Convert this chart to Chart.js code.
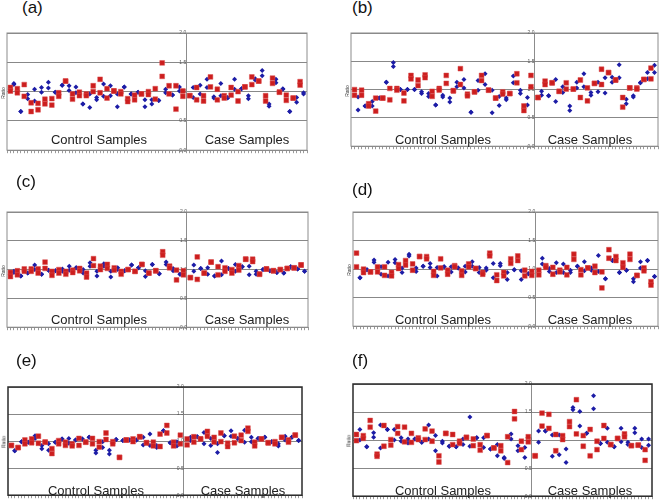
<!DOCTYPE html>
<html lang="en">
<head>
  <meta charset="UTF-8">
  <title>Ratio plots, control vs case samples</title>
  <script src="https://cdn.jsdelivr.net/npm/chart.js"></script>
  <style>
    body { margin: 0; width: 661px; height: 502px; background: #fff; position: relative; overflow: hidden;
           font-family: "Liberation Sans", Arial, sans-serif; }
    .panel { position: absolute; }
    .tag { position: absolute; font-size: 17px; line-height: 17px; color: #111; }
    .grp { position: absolute; font-size: 13px; line-height: 13px; color: #222; transform: translateX(-50%); white-space: nowrap; }
    .ratio { position: absolute; font-size: 5px; line-height: 5px; color: #333; transform: translate(-50%, -50%) rotate(-90deg); }
  </style>
</head>
<body>
  <script>
    // each entry = one sample column, two replicate ratios; odd columns red, even columns blue
    // control columns are 1..51, case columns 53..86, split line at 52
    const aControl = [
      [1.07,1.01],[1.14,1.12],[1.05,0.98],[0.66,0.66],[1.12,0.92],[0.95,0.88],[0.81,0.66],[1.04,0.84],[0.80,0.69],[1.07,0.99],
      [0.87,0.79],[1.16,1.06],[0.88,0.77],[0.99,0.99],[0.98,0.92],[1.11,1.11],[1.18,1.18],[1.10,1.02],[0.96,0.87],[1.08,0.98],
      [0.99,0.93],[0.79,0.79],[0.96,0.93],[0.96,0.73],[1.10,1.00],[0.90,0.86],[1.21,0.98],[1.13,0.92],[1.05,0.89],[1.10,0.93],
      [1.01,1.01],[0.96,0.74],[1.00,0.96],[1.08,1.08],[0.88,0.83],[0.96,0.96],[0.94,0.86],[0.99,0.99],[0.96,0.96],[0.86,0.74],
      [1.00,0.95],[0.86,0.79],[1.05,0.87],[0.85,0.85],[1.49,1.26],[1.04,0.98],[1.10,0.96],[0.94,0.94],[1.10,0.70],[1.08,1.01],
      [1.01,0.92]
    ];
    const aCase = [
      [0.93,0.93],[1.07,0.90],[1.07,0.86],[1.11,0.96],[0.93,0.84],[1.21,1.07],[1.25,1.08],[0.91,0.89],[1.04,0.86],[1.14,0.93],
      [0.93,0.89],[0.90,0.89],[1.07,0.94],[1.21,1.04],[1.00,0.84],[1.05,1.05],[1.08,1.08],[0.93,0.88],[1.25,1.12],[1.22,1.20],
      [1.18,1.18],[1.36,1.27],[0.93,0.84],[0.79,0.75],[1.23,1.14],[1.21,1.15],[0.99,0.99],[1.05,1.04],[0.94,0.85],[0.66,0.66],
      [0.89,0.89],[0.90,0.82],[1.17,1.11],[0.98,0.96]
    ];
    const bControl = [
      [1.00,0.90],[0.87,0.64],[0.99,0.90],[0.71,0.71],[0.75,0.71],[0.79,0.71],[0.85,0.62],[0.85,0.85],[0.85,0.85],[1.13,1.13],
      [1.02,0.82],[1.48,1.41],[1.02,0.99],[1.00,1.00],[0.94,0.80],[1.00,1.00],[1.25,1.19],[1.00,1.00],[1.17,1.07],[0.96,0.93],
      [1.26,1.21],[0.93,0.88],[0.97,0.88],[0.73,0.73],[1.02,0.99],[0.90,0.87],[1.25,1.11],[0.85,0.78],[0.98,0.98],[1.13,1.05],
      [1.37,1.09],[1.18,1.03],[0.92,0.89],[0.60,0.60],[0.96,0.96],[1.16,0.99],[1.25,1.16],[1.28,1.09],[0.99,0.99],[0.99,0.59],
      [0.85,0.85],[0.88,0.72],[0.96,0.92],[0.85,0.82],[0.93,0.93],[1.24,1.12],[1.28,1.12],[0.99,0.93],[0.71,0.63],[0.86,0.73],
      [1.25,1.05]
    ];
    const bCase = [
      [0.86,0.86],[0.97,0.90],[1.15,1.09],[0.89,0.89],[1.12,1.12],[1.18,0.79],[0.97,0.97],[1.05,0.95],[1.12,1.01],[0.71,0.63],
      [1.01,1.01],[1.13,1.03],[1.17,0.86],[1.28,1.05],[1.03,0.80],[0.95,0.90],[1.11,1.11],[1.13,0.96],[1.36,1.09],[1.21,0.94],
      [1.30,1.30],[1.22,1.13],[1.17,1.17],[1.44,1.21],[0.86,0.69],[0.83,0.75],[1.03,1.03],[0.89,0.87],[1.03,1.01],[1.12,1.12],
      [1.18,1.18],[1.30,1.19],[1.38,1.19],[1.43,1.30]
    ];
    const cControl = [
      [0.95,0.88],[0.97,0.95],[0.98,0.91],[0.89,0.89],[1.01,0.97],[0.94,0.94],[1.01,0.97],[1.08,1.00],[1.01,0.94],[0.92,0.92],
      [1.13,1.02],[0.99,0.99],[0.97,0.90],[0.98,0.98],[1.00,0.94],[1.01,0.97],[0.97,0.92],[1.06,0.99],[0.99,0.95],[1.03,1.03],
      [1.02,0.98],[1.00,0.94],[0.94,0.87],[1.12,1.06],[1.19,1.07],[0.97,0.89],[1.06,1.00],[1.10,1.06],[1.09,1.02],[0.97,0.87],
      [1.03,0.99],[1.03,1.00],[0.97,0.92],[0.98,0.98],[1.00,1.00],[1.08,1.08],[0.97,0.97],[1.03,1.03],[1.09,1.09],[0.98,0.88],
      [0.94,0.94],[1.09,1.09],[0.98,0.98],[0.93,0.93],[1.31,1.25],[1.13,1.09],[1.06,1.03],[1.02,0.98],[0.99,0.82],[0.92,0.92],
      [0.98,0.91]
    ];
    const cCase = [
      [0.86,0.86],[1.08,0.97],[1.22,0.83],[1.02,1.02],[0.94,0.94],[1.03,0.92],[1.13,1.13],[0.89,0.89],[1.05,0.91],[1.15,0.91],
      [1.03,0.97],[1.02,1.02],[1.00,0.94],[1.09,0.97],[1.07,0.99],[1.05,1.05],[1.18,1.18],[1.06,0.91],[1.18,1.14],[0.97,0.92],
      [0.92,0.92],[1.00,1.00],[1.01,1.01],[0.98,0.98],[0.98,0.98],[0.95,0.95],[1.00,1.00],[0.94,0.94],[1.02,1.02],[1.05,1.05],
      [1.03,1.03],[1.01,1.01],[1.08,1.08],[0.97,0.97]
    ];
    const dControl = [
      [1.28,1.04],[0.85,0.85],[1.00,0.94],[0.99,0.99],[0.95,0.95],[1.16,1.12],[1.04,0.95],[1.04,0.91],[1.04,0.89],[1.12,0.88],
      [0.94,0.88],[1.17,1.11],[1.08,1.01],[1.02,0.94],[1.15,1.07],[1.26,1.23],[1.09,0.98],[1.02,0.96],[1.22,1.22],[1.05,1.05],
      [1.22,1.18],[1.10,1.03],[0.96,0.89],[1.03,0.88],[1.18,1.02],[1.04,1.04],[0.98,0.91],[1.04,0.95],[1.06,1.04],[1.02,1.02],
      [0.97,0.89],[1.05,0.95],[1.09,1.04],[1.13,1.05],[1.01,1.01],[1.03,0.94],[0.94,0.91],[1.02,0.98],[1.28,1.23],[1.10,0.85],
      [0.90,0.80],[1.10,1.06],[0.94,0.88],[0.94,0.82],[1.18,1.10],[0.99,0.99],[1.23,1.15],[0.97,0.82],[0.98,0.88],[0.92,0.92],
      [0.96,0.89]
    ];
    const dCase = [
      [0.98,0.90],[1.19,1.09],[1.06,1.03],[1.01,0.96],[1.03,0.91],[1.11,0.94],[0.98,0.95],[1.09,0.94],[1.03,0.90],[0.98,0.94],
      [1.26,1.17],[1.05,1.05],[0.99,0.90],[1.13,0.97],[1.02,1.02],[1.02,0.98],[1.05,0.94],[1.24,0.96],[0.95,0.67],[0.83,0.83],
      [1.34,1.19],[1.15,1.15],[1.22,1.15],[0.94,0.94],[1.11,1.03],[0.98,0.98],[1.26,1.17],[0.83,0.78],[0.89,0.89],[1.13,1.02],
      [1.02,0.97],[1.15,1.15],[0.78,0.72],[0.87,0.87]
    ];
    const eControl = [
      [0.92,0.92],[0.82,0.82],[0.88,0.88],[0.99,0.99],[1.02,0.95],[0.98,0.98],[1.04,0.97],[1.10,1.05],[1.09,0.96],[0.92,0.86],
      [0.98,0.98],[0.95,0.83],[0.86,0.77],[0.98,0.98],[1.01,0.95],[1.04,1.04],[0.98,0.92],[1.05,0.96],[0.95,0.91],[1.02,1.02],
      [1.05,0.92],[1.04,1.04],[0.98,0.98],[1.07,1.07],[1.05,0.95],[0.83,0.78],[0.99,0.89],[0.99,0.88],[1.15,1.03],[0.83,0.76],
      [0.99,0.95],[1.03,1.03],[0.70,0.70],[1.01,1.01],[1.02,1.02],[1.02,1.02],[1.04,0.99],[1.02,1.02],[1.08,1.08],[1.07,0.93],
      [0.97,0.97],[1.13,0.92],[0.98,0.91],[0.92,0.88],[1.13,0.90],[1.19,1.19],[1.29,1.15],[0.97,0.97],[0.98,0.91],[0.99,0.91],
      [1.11,0.95]
    ];
    const eCase = [
      [1.04,0.93],[1.07,1.01],[1.08,0.98],[1.08,1.08],[1.04,1.04],[1.16,0.95],[1.18,1.09],[1.05,0.92],[1.07,0.98],[0.95,0.79],
      [1.15,0.99],[1.10,1.10],[0.96,0.90],[1.19,1.09],[1.09,0.97],[1.05,1.05],[1.11,1.01],[1.20,0.98],[1.24,1.18],[1.07,0.99],
      [0.98,0.91],[1.05,1.05],[1.04,1.04],[1.07,1.07],[0.97,0.97],[0.99,0.99],[0.99,0.95],[0.95,0.91],[1.07,1.07],[1.09,1.02],
      [1.02,0.98],[1.07,1.07],[1.11,1.11],[1.01,1.01]
    ];
    const fControl = [
      [1.10,0.99],[1.19,1.00],[1.08,1.03],[0.88,0.88],[1.35,1.23],[1.13,1.05],[0.75,0.71],[1.27,0.86],[1.26,0.89],[1.19,1.19],
      [1.01,0.91],[1.19,1.00],[1.24,1.12],[1.04,0.98],[1.23,0.97],[1.02,0.95],[1.12,0.96],[1.02,1.02],[1.04,1.01],[0.96,0.96],
      [1.20,1.01],[1.27,1.02],[1.16,0.98],[1.08,0.81],[0.72,0.61],[0.98,0.95],[1.12,1.12],[0.89,0.89],[1.10,0.92],[0.88,0.88],
      [0.98,0.94],[1.02,0.92],[1.05,1.05],[1.41,0.89],[1.02,0.90],[1.04,1.04],[0.92,0.82],[1.04,0.87],[1.08,1.08],[0.84,0.84],
      [0.86,0.86],[0.92,0.72],[0.90,0.81],[0.69,0.67],[1.06,0.60],[1.11,1.02],[1.51,1.38],[0.90,0.81],[0.98,0.83],[0.87,0.69],
      [1.06,0.97]
    ];
    const fCase = [
      [0.72,0.72],[1.16,0.96],[1.48,1.25],[1.16,1.16],[1.46,1.21],[1.09,0.71],[1.10,0.81],[1.09,0.74],[1.08,1.01],[0.84,0.60],
      [1.33,1.24],[1.58,1.54],[1.72,1.11],[1.51,1.25],[1.08,0.89],[1.12,1.12],[1.19,0.72],[1.79,1.56],[0.98,0.83],[0.94,0.94],
      [1.26,1.03],[1.21,0.96],[0.92,0.92],[0.88,0.88],[1.03,1.03],[1.21,0.97],[1.11,1.06],[0.96,0.92],[0.90,0.90],[1.21,1.13],
      [0.91,0.91],[1.02,0.87],[0.83,0.64],[1.02,0.91]
    ];

    const yTicks = [0.0, 0.5, 1.0, 1.5, 2.0];
    const groupLabels = ['Control Samples', 'Case Samples'];
    const SPLIT = 52, CASE_START = 53, X_MAX = 87;

    const RED = '#cc1e1e', BLUE = '#1c1ca6';

    // box = [left, top, width, height] of the plot frame on the page
    const panels = [
      { tag: '(a)', control: aControl, cases: aCase, box: [7, 33, 300, 119], tagAt: [22, -1], base: 144, cx: [99, 247], frame: '#8c8c8c', fw: 1 },
      { tag: '(b)', control: bControl, cases: bCase, box: [351, 33, 307, 115], tagAt: [352, -1], base: 144, cx: [443, 590], frame: '#8c8c8c', fw: 1 },
      { tag: '(c)', control: cControl, cases: cCase, box: [7, 212, 301, 117], tagAt: [16, 173], base: 324, cx: [99, 247], frame: '#8c8c8c', fw: 1 },
      { tag: '(d)', control: dControl, cases: dCase, box: [353, 212, 305, 116], tagAt: [352, 181], base: 324, cx: [443, 590], frame: '#8c8c8c', fw: 1 },
      { tag: '(e)', control: eControl, cases: eCase, box: [8, 387, 294, 110], tagAt: [16, 352], base: 495, cx: [96, 243], frame: '#2a2a2a', fw: 1.5 },
      { tag: '(f)', control: fControl, cases: fCase, box: [353, 384, 299, 114], tagAt: [352, 352], base: 495, cx: [443, 590], frame: '#2a2a2a', fw: 1.5 }
    ];

    const framePlugin = {
      id: 'frame',
      beforeDatasetsDraw(chart, args, opts) {
        const { ctx, chartArea: a } = chart;
        ctx.save();
        ctx.strokeStyle = opts.color;
        ctx.lineWidth = opts.width;
        ctx.strokeRect(a.left, a.top, a.right - a.left, a.bottom - a.top);
        ctx.restore();
      }
    };

    const addText = (cls, text, left, top) => {
      const el = document.createElement('div');
      el.className = cls;
      el.textContent = text;
      el.style.left = left + 'px';
      el.style.top = top + 'px';
      document.body.appendChild(el);
    };

    panels.forEach(p => {
      const [bx, by, bw, bh] = p.box;
      const pad = { left: 6, right: 6, top: 5 };
      const tickLen = 3;
      const w = bw + pad.left + pad.right;
      const h = bh + pad.top + tickLen;

      const wrap = document.createElement('div');
      wrap.className = 'panel';
      wrap.style.left = (bx - pad.left) + 'px';
      wrap.style.top = (by - pad.top) + 'px';
      const canvas = document.createElement('canvas');
      canvas.width = w;
      canvas.height = h;
      canvas.style.width = w + 'px';
      canvas.style.height = h + 'px';
      wrap.appendChild(canvas);
      document.body.appendChild(wrap);

      const red = [], blue = [];
      const add = (pair, k) => pair.forEach(v => (k % 2 ? red : blue).push({ x: k, y: v }));
      p.control.forEach((pair, i) => add(pair, i + 1));
      p.cases.forEach((pair, i) => add(pair, CASE_START + i));

      new Chart(canvas, {
        type: 'scatter',
        data: {
          datasets: [
            { data: red, pointStyle: 'rect', pointRadius: 3.4, backgroundColor: RED, borderColor: 'rgba(220,80,80,0.6)', borderWidth: 0.8 },
            { data: blue, pointStyle: 'rectRot', pointRadius: 2.5, backgroundColor: BLUE, borderColor: BLUE, borderWidth: 0 }
          ]
        },
        options: {
          responsive: false,
          animation: false,
          events: [],
          layout: { padding: { left: pad.left, right: pad.right, top: pad.top, bottom: 0 } },
          plugins: { legend: { display: false }, tooltip: { enabled: false }, frame: { color: p.frame, width: p.fw } },
          scales: {
            x: {
              type: 'linear', min: 0, max: X_MAX,
              ticks: { display: false, stepSize: 1 },
              grid: { drawOnChartArea: false, drawTicks: true, tickLength: tickLen, color: '#9a9a9a' },
              border: { display: false }
            },
            y: {
              min: 0, max: 2,
              position: { x: SPLIT },
              afterBuildTicks: s => { s.ticks = yTicks.map(v => ({ value: v })); },
              ticks: { font: { size: 5, family: 'Arial' }, color: '#555', padding: 1, callback: v => v.toFixed(1) },
              grid: { color: '#888', drawTicks: false },
              border: { display: true, color: '#8c8c8c' }
            }
          }
        },
        plugins: [framePlugin]
      });

      addText('tag', p.tag, p.tagAt[0], p.tagAt[1]);
      addText('grp', groupLabels[0], p.cx[0], p.base - 11);
      addText('grp', groupLabels[1], p.cx[1], p.base - 11);
      addText('ratio', 'Ratio', bx - 4, by + bh / 2);
    });
  </script>
</body>
</html>
